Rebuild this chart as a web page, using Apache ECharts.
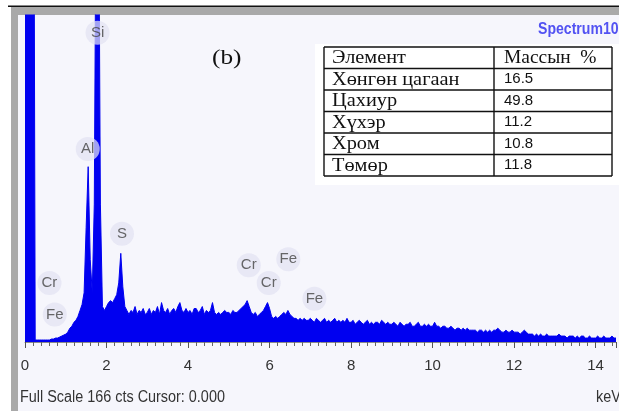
<!DOCTYPE html>
<html><head><meta charset="utf-8">
<script src="https://cdn.jsdelivr.net/npm/echarts@6/dist/echarts.min.js"></script>
<style>html,body{margin:0;padding:0;background:#fff}#c{width:619px;height:411px}</style>
</head><body><div id="c"></div>
<script>
// ---- data ----
const channelWidthKeV = 0.05;
// counts per 0.05 keV channel, one row per keV
const counts = [
  400,400,400,400,400,1,1,1,1,1,1,1,1,1.5,1.5,2,2,2.5,3,3.5,
  4,5,7,8,10,11,13,16,19,25,58,89,42,25,70,260,260,70,18,16,
  18,20,21,20,22,24,30,45,28,18,16,14,16,15,18,14,16,15,17,14,
  15,17,14,16,15,18,14,20,16,15,17,14,16,17,15,18,20,16,15,17,
  15,16,14,17,17,15,16,18,14,16,15,16,20,15,14,15,14,15,16,15,
  15,14,16,15,15,16,17,18,19,21,18,15,14,15,13,14,15,16,18,20,
  17,13,12,13,12,13,14,15,14,16,14,13,12,12,11,12,11,12,11,11,
  12,11,10,12,11,10,11,12,10,11,10,11,12,10,11,10,11,10,12,10,
  10,11,9,10,11,10,9,10,11,9,10,9,10,10,9,11,10,9,10,9,
  9,10,9,8,10,9,8,9,9,10,8,8,9,10,8,8,9,8,9,8,
  8,10,8,8,7,8,8,7,7,8,7,6,7,7,6,7,6,7,6,6,
  6,6,5,6,6,5,6,5,6,5,6,6,7,6,5,5,6,5,5,6,
  5,5,5,4,5,6,5,4,4,4,3,4,3,4,3,3,4,3,3,3,
  3,3,4,3,3,3,2,3,3,3,2,3,2,3,3,2,2,3,2,2,
  2,3,2,2,3,2,2,2,3,2,2
];
const fullScaleCts = 166;
const xTickLabels = ['0','2','4','6','8','10','12','14'];
// peak markers: element, energy (keV), label height (cts)
const peakNames = ['Si','Al','S','Cr','Fe','Cr','Cr','Fe','Fe'];
const peakKeV   = [1.78,1.54,2.38,0.60,0.73,5.49,5.98,6.46,7.10];
const peakCts   = [157,98,55,30,14,39,30,42,22];
// table
const tableHeader = ['Элемент','Массын  %'];
const tableElements = ['Хөнгөн цагаан','Цахиур','Хүхэр','Хром','Төмөр'];
const tableMass = ['16.5','49.8','11.2','10.8','11.8'];
const spectrumName = 'Spectrum10';
const panelLabel = '(b)';
const footerText = 'Full Scale 166 cts Cursor: 0.000';
const unitText = 'keV';

// ---- chart ----
const chart = echarts.init(document.getElementById('c'), null, {renderer:'canvas'});
const lineData = counts.map((c,i)=>[+(i*channelWidthKeV).toFixed(2), c]);
const serif = "'Liberation Serif','Times New Roman',serif";
const sans = "'Liberation Sans',Arial,sans-serif";

function txt(x,y,text,font,fill,opts){
  return Object.assign({type:'text', z:11, silent:true, x:x, y:y,
    style:{x:0,y:0,text:text,font:font,fill:fill,textVerticalAlign:'middle'}}, opts||{});
}

const graphics = [
  {type:'rect', z:-10, silent:true, shape:{x:0,y:0,width:619,height:411}, style:{fill:'#ffffff'}},
  {type:'rect', z:-9, silent:true, shape:{x:8,y:5.5,width:611,height:1.5}, style:{fill:'#111'}},
  {type:'rect', z:-9, silent:true, shape:{x:11,y:7,width:608,height:404}, style:{fill:'#a9a9a9'}},
  {type:'rect', z:-8, silent:true, shape:{x:18,y:15,width:601,height:396}, style:{fill:'#f6f6fc'}},
  {type:'rect', z:-7, silent:true, shape:{x:315,y:44,width:304,height:141}, style:{fill:'#ffffff'}},
  txt(538,30,spectrumName,"bold 16px "+sans,'#5252f2',{scaleX:0.88}),
  txt(212,58,panelLabel,"22px "+serif,'#111',{scaleX:1.15}),
  txt(20,398,footerText,"16px "+sans,'#333',{scaleX:0.9}),
  txt(596,398,unitText,"16px "+sans,'#333',{scaleX:0.9})
];
// table
const tX0=324, tX1=494, tX2=612, tY0=47, rowH=21.5;
const nRows = tableElements.length+1;
const tY1 = tY0 + nRows*rowH;
for(let r=0;r<=nRows;r++){
  const y = tY0 + r*rowH;
  graphics.push({type:'line', z:10, silent:true, shape:{x1:tX0,y1:y,x2:tX2,y2:y}, style:{stroke:'#111',lineWidth:1.4}});
}
[tX0,tX1,tX2].forEach(x=>graphics.push({type:'line', z:10, silent:true, shape:{x1:x,y1:tY0,x2:x,y2:tY1}, style:{stroke:'#111',lineWidth:1.4}}));
graphics.push(txt(tX0+8,tY0+rowH/2+1,tableHeader[0],"18px "+serif,'#111',{scaleX:1.13}));
graphics.push(txt(tX1+10,tY0+rowH/2+1,tableHeader[1],"18px "+serif,'#111',{scaleX:1.08}));
tableElements.forEach((t,i)=>{
  const y = tY0 + (i+1)*rowH + rowH/2 + 1;
  graphics.push(txt(tX0+8,y,t,"18px "+serif,'#111',{scaleX:1.13}));
  graphics.push(txt(tX1+10,y-1,tableMass[i],"15px "+sans,'#111'));
});

chart.setOption({
  animation:false,
  backgroundColor:'transparent',
  grid:{left:25,right:0,top:15,bottom:69,containLabel:false},
  xAxis:{type:'value',min:0,max:14.5,interval:2,
    axisLine:{show:true,lineStyle:{color:'#8a8a8a',width:1}},
    axisTick:{show:true,length:6,lineStyle:{color:'#555'}},
    minorTick:{show:true,splitNumber:10,length:4,lineStyle:{color:'#666'}},
    splitLine:{show:false},
    axisLabel:{margin:16,fontSize:15,fontFamily:sans,color:'#333',
      formatter:(v)=>{const i=Math.round(v/2);return (Math.abs(v-i*2)<1e-6 && xTickLabels[i]!==undefined)?xTickLabels[i]:'';}}
  },
  yAxis:{type:'value',min:0,max:fullScaleCts,show:false},
  graphic:graphics,
  series:[
    {type:'line',data:lineData,symbol:'none',clip:true,z:2,
      lineStyle:{color:'#0000f0',width:1},
      areaStyle:{color:'#0000f0',opacity:1}},
    {type:'scatter',z:5,symbol:'circle',symbolSize:24,
      itemStyle:{color:'rgba(226,226,242,0.9)'},
      label:{show:true,position:'inside',formatter:(p)=>p.name,fontSize:15,fontFamily:sans,color:'#444'},
      data:peakNames.map((n,i)=>({name:n,value:[peakKeV[i],peakCts[i]]}))}
  ]
});
</script></body></html>
